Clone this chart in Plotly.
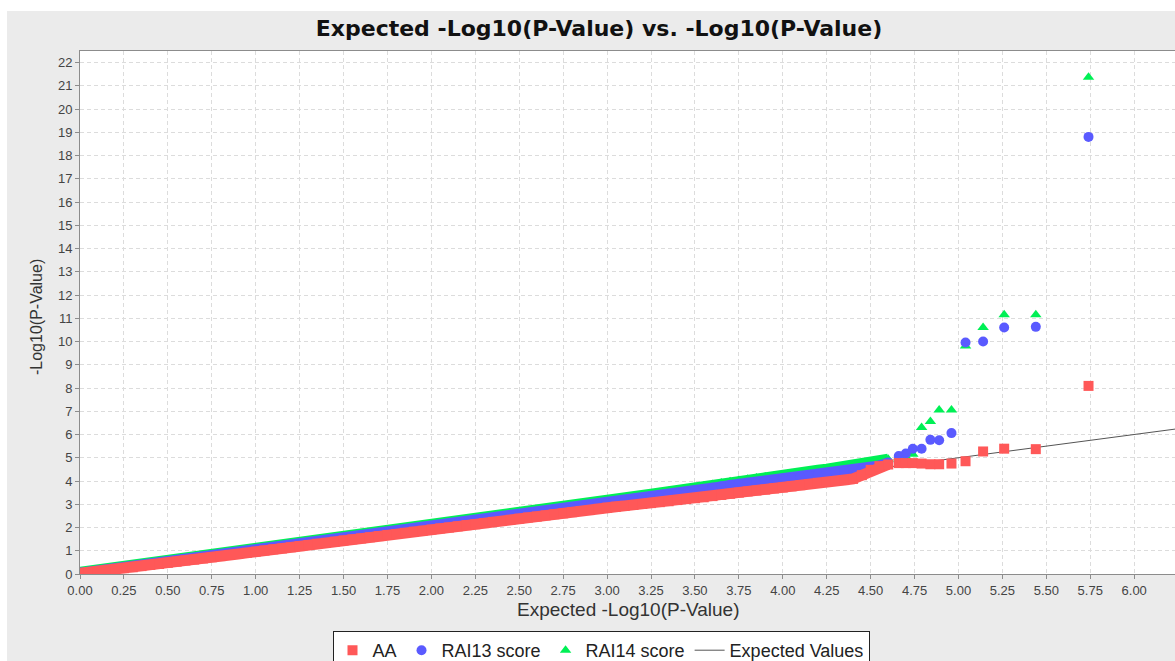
import plotly.graph_objects as go

# Expected -log10(p) positions (dense body, then the sparse tail of top hits)
expected = [
    0.00, 0.05, 0.10, 0.15, 0.20, 0.25, 0.30, 0.35, 0.40, 0.45,
    0.50, 0.55, 0.60, 0.65, 0.70, 0.75, 0.80, 0.85, 0.90, 0.95,
    1.00, 1.05, 1.10, 1.15, 1.20, 1.25, 1.30, 1.35, 1.40, 1.45,
    1.50, 1.55, 1.60, 1.65, 1.70, 1.75, 1.80, 1.85, 1.90, 1.95,
    2.00, 2.05, 2.10, 2.15, 2.20, 2.25, 2.30, 2.35, 2.40, 2.45,
    2.50, 2.55, 2.60, 2.65, 2.70, 2.75, 2.80, 2.85, 2.90, 2.95,
    3.00, 3.05, 3.10, 3.15, 3.20, 3.25, 3.30, 3.35, 3.40, 3.45,
    3.50, 3.55, 3.60, 3.65, 3.70, 3.75, 3.80, 3.85, 3.90, 3.95,
    4.00, 4.05, 4.10, 4.15, 4.20, 4.25, 4.30, 4.35, 4.40, 4.45,
    4.50, 4.55, 4.60,
    4.66, 4.70, 4.74, 4.79, 4.84, 4.89, 4.96, 5.04, 5.14, 5.26, 5.44, 5.74,
]

# Observed -log10(p) per score
aa = [
    0.03, 0.07, 0.11, 0.16, 0.20, 0.25, 0.29, 0.34, 0.39, 0.43,
    0.48, 0.53, 0.58, 0.62, 0.67, 0.72, 0.77, 0.82, 0.86, 0.91,
    0.96, 1.01, 1.06, 1.10, 1.15, 1.20, 1.25, 1.30, 1.34, 1.39,
    1.44, 1.49, 1.53, 1.58, 1.63, 1.68, 1.72, 1.77, 1.82, 1.86,
    1.91, 1.96, 2.00, 2.05, 2.10, 2.14, 2.19, 2.24, 2.28, 2.33,
    2.38, 2.43, 2.47, 2.52, 2.57, 2.61, 2.66, 2.71, 2.75, 2.80,
    2.85, 2.89, 2.93, 2.97, 3.01, 3.05, 3.09, 3.13, 3.18, 3.22,
    3.26, 3.30, 3.35, 3.40, 3.45, 3.50, 3.55, 3.59, 3.63, 3.68,
    3.72, 3.77, 3.82, 3.87, 3.92, 3.96, 4.00, 4.04, 4.09, 4.25,
    4.48, 4.64, 4.71,
    4.77, 4.77, 4.77, 4.75, 4.72, 4.72, 4.75, 4.85, 5.27, 5.39, 5.37, 8.09,
]

rai13 = [
    0.05, 0.10, 0.14, 0.19, 0.24, 0.29, 0.34, 0.38, 0.43, 0.48,
    0.53, 0.58, 0.63, 0.67, 0.72, 0.77, 0.82, 0.87, 0.92, 0.97,
    1.02, 1.07, 1.12, 1.16, 1.21, 1.26, 1.31, 1.36, 1.41, 1.46,
    1.51, 1.56, 1.61, 1.66, 1.71, 1.76, 1.81, 1.86, 1.91, 1.96,
    2.01, 2.06, 2.11, 2.16, 2.21, 2.26, 2.31, 2.36, 2.41, 2.46,
    2.51, 2.56, 2.61, 2.66, 2.71, 2.76, 2.82, 2.87, 2.92, 2.98,
    3.03, 3.08, 3.13, 3.18, 3.24, 3.29, 3.35, 3.41, 3.47, 3.53,
    3.59, 3.65, 3.71, 3.77, 3.83, 3.88, 3.92, 3.96, 4.00, 4.04,
    4.08, 4.13, 4.18, 4.23, 4.28, 4.33, 4.38, 4.43, 4.48, 4.54,
    4.60, 4.67, 4.80,
    5.07, 5.18, 5.39, 5.39, 5.77, 5.75, 6.06, 9.96, 10.00, 10.60, 10.63, 18.80,
]

rai14 = [
    0.07, 0.12, 0.17, 0.22, 0.27, 0.32, 0.37, 0.42, 0.47, 0.52,
    0.57, 0.62, 0.67, 0.72, 0.77, 0.82, 0.87, 0.92, 0.97, 1.02,
    1.07, 1.12, 1.17, 1.22, 1.27, 1.32, 1.37, 1.42, 1.47, 1.52,
    1.57, 1.62, 1.68, 1.73, 1.78, 1.83, 1.88, 1.93, 1.98, 2.04,
    2.09, 2.14, 2.19, 2.24, 2.29, 2.35, 2.40, 2.45, 2.50, 2.56,
    2.61, 2.66, 2.71, 2.77, 2.82, 2.87, 2.93, 2.98, 3.04, 3.09,
    3.15, 3.20, 3.26, 3.31, 3.37, 3.43, 3.49, 3.55, 3.61, 3.67,
    3.73, 3.79, 3.85, 3.91, 3.97, 4.03, 4.08, 4.13, 4.17, 4.21,
    4.26, 4.31, 4.36, 4.41, 4.46, 4.51, 4.57, 4.63, 4.70, 4.76,
    4.82, 4.88, 4.94,
    5.00, 5.05, 5.15, 6.30, 6.56, 7.05, 7.05, 9.81, 10.60, 11.15, 11.15, 21.37,
]

# Reference diagonal y = x
line_x = [0.0, 6.5]
line_y = [0.0, 6.5]

x_ticks = [0.00, 0.25, 0.50, 0.75, 1.00, 1.25, 1.50, 1.75, 2.00, 2.25, 2.50,
           2.75, 3.00, 3.25, 3.50, 3.75, 4.00, 4.25, 4.50, 4.75, 5.00, 5.25,
           5.50, 5.75, 6.00, 6.25]
y_ticks = list(range(0, 23))

RED = "rgb(255,88,88)"
BLUE = "rgb(90,90,255)"
GREEN = "rgb(0,240,85)"
FONT = "Liberation Sans, Arial, sans-serif"
TITLE_FONT = "DejaVu Sans, Verdana, sans-serif"

# the body of the distribution is so dense that its markers merge into a band
n_band = expected.index(4.60) + 1

fig = go.Figure()

fig.add_trace(go.Scatter(
    x=line_x, y=line_y, mode="lines", name="Expected Values",
    line=dict(color="#555555", width=1), legendrank=4,
))

series = [
    ("RAI14 score", rai14, GREEN, "triangle-up", 11, 3),
    ("RAI13 score", rai13, BLUE, "circle", 10, 2),
    ("AA", aa, RED, "square", 11, 1),
]
for name, ys, color, symbol, band_w, rank in series:
    fig.add_trace(go.Scatter(
        x=expected[:n_band], y=ys[:n_band], mode="lines",
        line=dict(color=color, width=band_w),
        legendgroup=name, showlegend=False, hoverinfo="skip",
    ))
    fig.add_trace(go.Scatter(
        x=expected, y=ys, mode="markers", name=name,
        marker=dict(symbol=symbol, size=10, color=color, line=dict(width=0)),
        legendgroup=name, legendrank=rank,
    ))

W, H = 1175, 661
ML, MR, MT, MB = 80, 0, 51, 87
PW, PH = W - ML - MR, H - MT - MB


def px_x(p):
    return (p - ML) / PW


def px_y(p):
    return (MT + PH - p) / PH


fig.update_layout(
    width=W, height=H,
    margin=dict(l=ML, r=MR, t=MT, b=MB, pad=0),
    paper_bgcolor="white",
    plot_bgcolor="white",
    font=dict(family=FONT, color="#333333"),
    title=dict(
        text="<b>Expected -Log10(P-Value) vs. -Log10(P-Value)</b>",
        x=px_x(599), xref="paper", xanchor="center",
        y=1 - 28 / H, yanchor="middle",
        font=dict(family=TITLE_FONT, size=22, color="#111111"),
    ),
    showlegend=True,
    legend=dict(
        orientation="h",
        x=px_x(601), xanchor="center",
        yref="container", y=(H - 631) / H, yanchor="top",
        bgcolor="white", bordercolor="#222222", borderwidth=1,
        font=dict(family=FONT, size=18, color="#222222"),
        itemsizing="trace",
    ),
    shapes=[
        dict(type="rect", xref="paper", yref="paper", layer="below",
             x0=px_x(7), x1=px_x(W + 5), y0=px_y(H + 5), y1=px_y(11),
             fillcolor="#ebebeb", line=dict(width=0)),
        dict(type="rect", xref="paper", yref="paper", layer="below",
             x0=0, x1=1, y0=0, y1=1,
             fillcolor="white", line=dict(width=0)),
    ],
    annotations=[
        dict(text="Expected -Log10(P-Value)", xref="paper", yref="paper",
             x=px_x(628), y=px_y(609), xanchor="center", yanchor="middle",
             showarrow=False, font=dict(family=FONT, size=19, color="#333333")),
        dict(text="-Log10(P-Value)", xref="paper", yref="paper",
             x=px_x(37), y=px_y(317), xanchor="center", yanchor="middle",
             textangle=-90, showarrow=False,
             font=dict(family=FONT, size=16, color="#333333")),
    ],
)

fig.update_xaxes(
    range=[0, PW / 175.7],
    tickvals=x_ticks, tickformat=".2f",
    showgrid=True, gridcolor="#dcdcdc", griddash="4px,3px", gridwidth=1,
    zeroline=False,
    showline=True, linecolor="#8c8c8c", linewidth=1, mirror=True,
    ticks="outside", ticklen=4, tickcolor="#8c8c8c",
    tickfont=dict(family=FONT, size=13, color="#444444"),
)
fig.update_yaxes(
    range=[0, PH / 23.25],
    tickvals=y_ticks,
    showgrid=True, gridcolor="#dcdcdc", griddash="4px,3px", gridwidth=1,
    zeroline=False,
    showline=True, linecolor="#8c8c8c", linewidth=1,
    ticks="outside", ticklen=4, tickcolor="#8c8c8c",
    tickfont=dict(family=FONT, size=13, color="#444444"),
)

fig.write_html("out.html")
